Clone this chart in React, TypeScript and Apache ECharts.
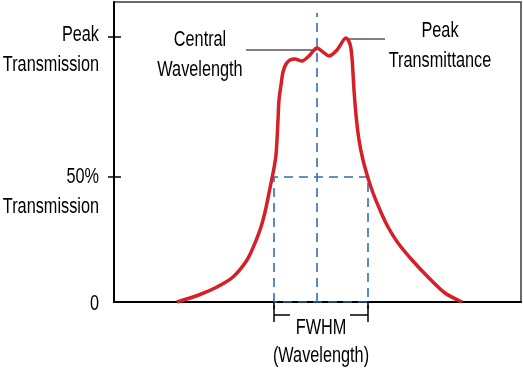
import React, { useEffect, useRef } from "react";
import * as echarts from "echarts";

// Transmission curve (x: wavelength offset, y: transmission scale where 50 = 50%)
const curveX = [63, 86, 103, 119, 133, 141, 147, 151.5, 155, 158, 160, 162, 163, 164, 165, 167, 169, 172, 176, 181, 188, 195, 203, 209, 215, 223, 232, 236, 238, 240, 242, 245, 249, 254, 259, 266, 274, 284, 298, 314, 331, 348];
const curveY = [0, 3, 6, 10, 16.8, 23.6, 30, 36.8, 43.6, 49.6, 53.6, 58.8, 64.8, 72.8, 80.8, 86.8, 92, 95.2, 96.8, 97.2, 96.4, 98.4, 101.6, 100, 98.4, 100.8, 105.6, 103.2, 97.6, 84.8, 74.8, 64.8, 56.8, 49.6, 43.6, 36.8, 30, 23.6, 16.8, 10, 3.6, 0];

// FWHM box and central wavelength
const fwhmLeft = 160;
const fwhmRight = 254;
const halfLevel = 50;
const centralX = 203;
const centralTop = 115.6;
const peakX = 232;
const peakY = 105.2;
const centralPeakY = 100.8;

// Axis ticks / labels
const yTickValues = [50, 106];
const yLabelValues = [0, 44.8, 101.6];
const yLabelTexts = ["0", "50%\nTransmission", "Peak\nTransmission"];
const xTickValues = [fwhmLeft, fwhmRight];

const FONT = '"Liberation Sans", Arial, sans-serif';
const FONT_SIZE = 22;
const SQUEEZE = 0.74;
const RED = "#d71f27";
const BLUE = "#2f6fb3";

export default function App() {
  const ref = useRef<HTMLDivElement>(null);
  useEffect(() => {
    if (!ref.current) return;
    const chart = echarts.init(ref.current, undefined, { renderer: "svg" });
    const curve = curveX.map((x, i) => [x, curveY[i]]);
    const dashStyle = { color: BLUE, width: 1.6, type: [9, 6] as any };
    chart.setOption({
      animation: false,
      grid: {
        left: 114,
        right: 2,
        top: 2,
        bottom: 68,
        containLabel: false,
        outerBoundsMode: "none",
        show: true,
        borderColor: "#3a3a3a",
        borderWidth: 1.5,
        backgroundColor: "transparent",
      },
      xAxis: {
        type: "value",
        min: 0,
        max: 407,
        splitLine: { show: false },
        axisLine: { show: true, lineStyle: { color: "#000", width: 2 } },
        axisTick: { show: true, customValues: xTickValues, length: 7, lineStyle: { color: "#000", width: 1.5 } },
        axisLabel: { show: false },
      },
      yAxis: [
        {
          type: "value",
          min: 0,
          max: 120,
          position: "left",
          splitLine: { show: false },
          axisLine: { show: true, lineStyle: { color: "#000", width: 2 } },
          axisTick: { show: true, customValues: yTickValues, length: 6, lineStyle: { color: "#000", width: 1.5 } },
          axisLabel: { show: false },
        },
        {
          type: "value",
          min: 0,
          max: 120,
          position: "left",
          splitLine: { show: false },
          axisLine: { show: false },
          axisTick: { show: true, inside: true, customValues: yTickValues, length: 7, lineStyle: { color: "#000", width: 1.5 } },
          axisLabel: { show: false },
        },
      ],
      series: [
        {
          type: "line",
          data: [[fwhmLeft, 0], [fwhmLeft, halfLevel], [fwhmRight, halfLevel], [fwhmRight, 0], [fwhmLeft, 0]],
          symbol: "none",
          lineStyle: dashStyle,
          silent: true,
          z: 3,
        },
        {
          type: "line",
          data: [[centralX, 0], [centralX, centralTop]],
          symbol: "none",
          lineStyle: dashStyle,
          silent: true,
          z: 3,
        },
        {
          type: "line",
          data: [[132, centralPeakY], [centralX, centralPeakY]],
          symbol: "none",
          lineStyle: { color: "#000", width: 1 },
          silent: true,
          z: 3,
        },
        {
          type: "line",
          data: [[peakX, peakY], [271, peakY]],
          symbol: "none",
          lineStyle: { color: "#000", width: 1 },
          silent: true,
          z: 3,
        },
        {
          type: "line",
          data: curve,
          smooth: 0.3,
          symbol: "none",
          lineStyle: { color: RED, width: 3.5 },
          silent: true,
          z: 5,
        },
      ],
    });

    const p = (x: number, y: number) => chart.convertToPixel({ gridIndex: 0 }, [x, y]) as number[];
    const txt = (t: string, pos: number[], align: string, lh: number) => ({
      type: "text",
      x: pos[0],
      y: pos[1],
      scaleX: SQUEEZE,
      style: {
        text: t,
        fontFamily: FONT,
        fontSize: FONT_SIZE,
        lineHeight: lh,
        fill: "#000",
        align,
        verticalAlign: "middle",
      },
    });
    const axisX = p(0, 0)[0] - 15;
    const yLabels = yLabelValues.map((v, i) => txt(yLabelTexts[i], [axisX, p(0, v)[1]], "right", 30));
    const cw = p(86, 99.6);
    const pt = p(326, 103.2);
    const fw = p((fwhmLeft + fwhmRight) / 2, -15.2);
    const bL1 = p(fwhmLeft, -1.2);
    const bL2 = p(fwhmLeft, -8);
    const bR1 = p(fwhmRight, -1.2);
    const bR2 = p(fwhmRight, -8);
    const hL1 = p(fwhmLeft, -5.2);
    const hL2 = p(176, -5.2);
    const hR1 = p(236, -5.2);
    const hR2 = p(fwhmRight, -5.2);
    const blk = { stroke: "#000", lineWidth: 1.5 };
    chart.setOption({
      graphic: [
        ...yLabels,
        txt("Central\nWavelength", cw, "center", 30),
        txt("Peak\nTransmittance", pt, "center", 30),
        txt("FWHM\n(Wavelength)", fw, "center", 28),
        { type: "line", shape: { x1: bL1[0], y1: bL1[1], x2: bL2[0], y2: bL2[1] }, style: blk },
        { type: "line", shape: { x1: bR1[0], y1: bR1[1], x2: bR2[0], y2: bR2[1] }, style: blk },
        { type: "line", shape: { x1: hL1[0], y1: hL1[1], x2: hL2[0], y2: hL2[1] }, style: blk },
        { type: "line", shape: { x1: hR1[0], y1: hR1[1], x2: hR2[0], y2: hR2[1] }, style: blk },
      ],
    });
    return () => chart.dispose();
  }, []);
  return <div ref={ref} style={{ position: "fixed", left: 0, top: 0, width: 523, height: 370 }} />;
}
